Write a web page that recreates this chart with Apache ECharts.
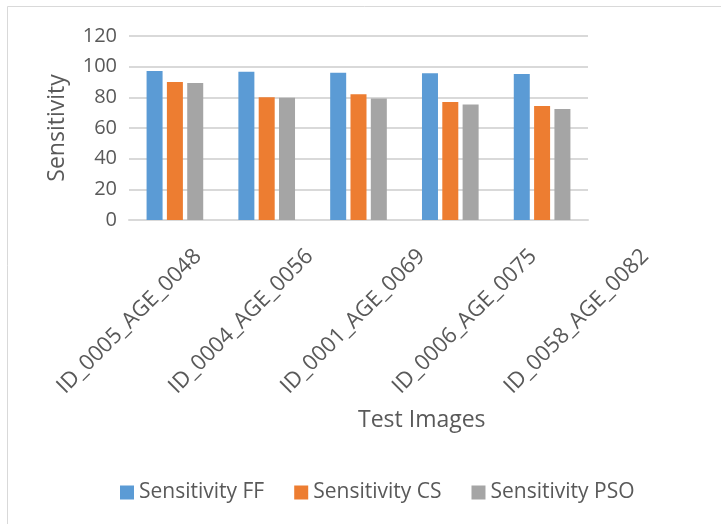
<!DOCTYPE html>
<html>
<head>
<meta charset="utf-8">
<script src="https://cdn.jsdelivr.net/npm/echarts@6/dist/echarts.min.js"></script>
<style>html,body{margin:0;padding:0;background:#fff;}#c{width:721px;height:524px;}</style>
</head>
<body>
<div id="c"></div>
<script>
const categories = ['ID_0005_AGE_0048','ID_0004_AGE_0056','ID_0001_AGE_0069','ID_0006_AGE_0075','ID_0058_AGE_0082'];
const sensitivityFF = [97.2, 96.7, 96.1, 95.7, 95.2];
const sensitivityCS = [90.0, 80.0, 82.0, 77.0, 74.3];
const sensitivityPSO = [89.3, 79.8, 79.3, 75.4, 72.4];
const seriesNames = ['Sensitivity FF','Sensitivity CS','Sensitivity PSO'];

const font = 'Open Sans';
const textColor = '#595959';
const chart = echarts.init(document.getElementById('c'), null, {renderer:'canvas'});
chart.setOption({
  animation:false,
  backgroundColor:'#fff',
  color:['#5B9BD5','#ED7D31','#A5A5A5'],
  graphic:[{type:'rect',shape:{x:7.5,y:6.5,width:760,height:560},style:{fill:'none',stroke:'#D9D9D9',lineWidth:1}}],
  title:{text:'Test Images',left:353,top:404,textStyle:{fontFamily:font,fontSize:23,fontWeight:'normal',color:textColor}},
  legend:{left:115,top:477,itemWidth:14,itemHeight:14,itemGap:30,icon:'rect',
    textStyle:{fontFamily:font,fontSize:21,color:textColor},data:seriesNames},
  grid:[
    {left:129,right:133,top:36,bottom:304,containLabel:false},
    {left:142,right:20,top:36,bottom:304,containLabel:false}
  ],
  xAxis:[
    {type:'category',data:categories,gridIndex:0,
     axisLine:{lineStyle:{color:'#D9D9D9',width:2}},axisTick:{show:false},axisLabel:{show:false}},
    {type:'category',data:categories,gridIndex:1,
     axisLine:{show:false},axisTick:{show:false},splitLine:{show:false},
     axisLabel:{rotate:45,interval:0,margin:33,fontFamily:font,fontSize:22,color:textColor}}
  ],
  yAxis:[
    {type:'value',gridIndex:0,min:0,max:120,interval:20,name:'Sensitivity',nameLocation:'middle',nameGap:60,
     nameTextStyle:{fontFamily:font,fontSize:23,color:textColor},
     axisLine:{show:false},axisTick:{show:false},
     axisLabel:{margin:12,fontFamily:font,fontSize:20,color:textColor},
     splitLine:{lineStyle:{color:'#D9D9D9',width:2}}},
    {type:'value',gridIndex:1,min:0,max:120,show:false,splitLine:{show:false}}
  ],
  series:[
    {name:seriesNames[0],type:'bar',data:sensitivityFF,barWidth:16,barGap:'27%'},
    {name:seriesNames[1],type:'bar',data:sensitivityCS,barWidth:16,barGap:'27%'},
    {name:seriesNames[2],type:'bar',data:sensitivityPSO,barWidth:16,barGap:'27%'}
  ]
});
</script>
</body>
</html>
